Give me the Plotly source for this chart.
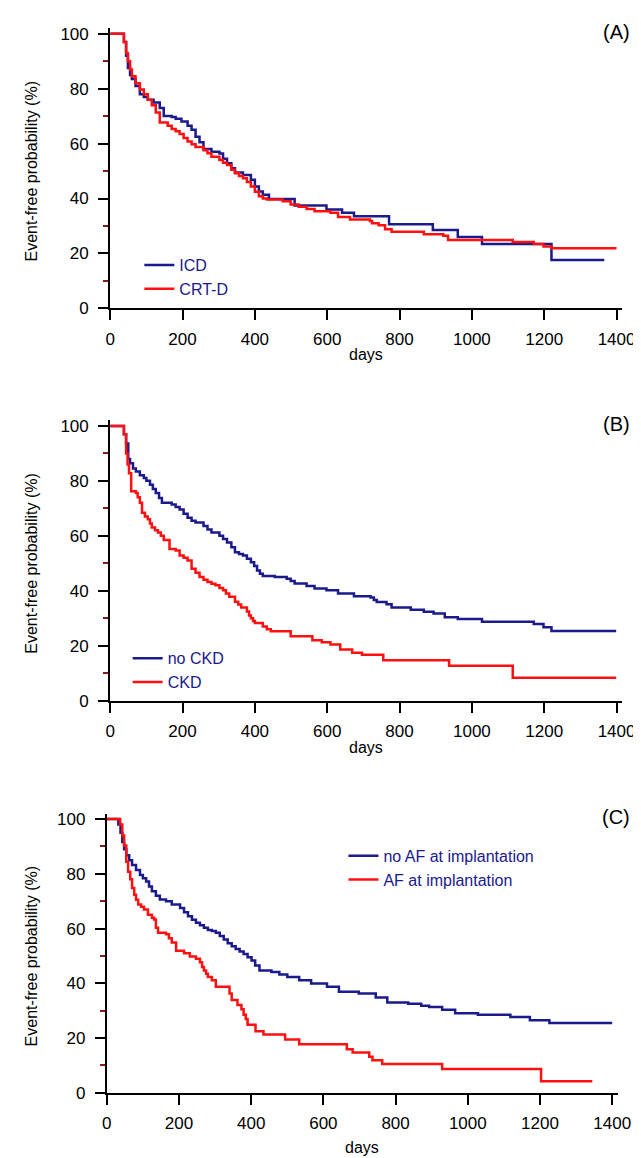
import plotly.graph_objects as go

# ---------------- data ----------------
a_icd_days = [0, 38, 44, 49, 55, 60, 70, 82, 93, 104, 120, 137, 148, 170, 181, 197, 214, 225, 236, 247,
              258, 280, 302, 312, 323, 335, 345, 367, 389, 400, 411, 422, 439, 510, 598, 641, 674, 771,
              892, 961, 1028, 1220, 1366]
a_icd_vals = [100, 97, 92, 87.5, 85, 83.5, 81, 78, 77, 76, 75, 73, 70, 69.7, 69, 68, 66.5, 65, 62.5, 60.5,
              58, 57, 56.4, 54.5, 52.8, 51, 49.5, 48.6, 46.8, 44.4, 42.6, 41.4, 39.8, 37.5, 36, 34.8, 33.5, 30.6,
              28.5, 26, 23.4, 17.6, 17.6]

a_crt_days = [0, 38, 44, 49, 55, 60, 70, 82, 93, 104, 115, 126, 137, 159, 170, 181, 192, 203, 214, 225,
              236, 258, 269, 280, 302, 312, 323, 335, 345, 356, 367, 378, 389, 400, 411, 422, 433, 477, 499,
              521, 543, 565, 609, 630, 663, 718, 724, 742, 760, 778, 867, 921, 934, 1113, 1171, 1198, 1220, 1400]
a_crt_vals = [100, 97, 93, 90, 87, 84.5, 82, 79.7, 78, 76, 74, 71.3, 67.7, 66.5, 65.3, 64.5, 63.5, 62, 60.8, 59.8,
              58.8, 57.6, 56.5, 55.2, 54, 53, 52.2, 50.5, 49.2, 48.2, 47.4, 46, 44.4, 42.5, 40.8, 40, 39.6, 39, 37.8,
              37, 36.2, 35.4, 34.8, 33.3, 32.4, 31.8, 31, 30.3, 28.8, 27.9, 27, 26.4, 24.9, 24.2, 23.4, 22.5, 21.9, 21.9]

b_nockd_days = [0, 38, 44, 50, 55, 63, 71, 82, 93, 100, 110, 118, 126, 135, 143, 170, 181, 192, 203, 214,
                225, 236, 258, 269, 280, 302, 312, 323, 335, 345, 356, 367, 378, 389, 398, 406, 414, 422, 455,
                488, 499, 510, 543, 565, 598, 630, 674, 720, 729, 737, 764, 778, 831, 867, 894, 925, 961, 1028,
                1171, 1198, 1220, 1399]
b_nockd_vals = [100, 97, 93.6, 88, 86.4, 84.5, 83.4, 82, 81, 80, 78.6, 77, 75.6, 73.8, 72, 71.4, 70.5, 69.6, 68, 66.6,
                65.5, 64.8, 63.6, 62.3, 61.2, 60, 58.8, 57.6, 55.8, 54, 53.4, 52.8, 51.6, 50.4, 49, 47.4, 46.2, 45.4, 45,
                44.4, 43.5, 42.6, 41.7, 40.8, 40.2, 39, 38, 37.5, 36.6, 35.9, 35.1, 33.9, 33.1, 32.3, 31.7, 30.3, 29.7, 28.7,
                27.9, 26.7, 25.3, 25.3]

b_ckd_days = [0, 38, 44, 48, 52, 58, 71, 76, 82, 88, 96, 104, 110, 115, 124, 132, 140, 148, 164, 181, 192,
              203, 214, 225, 236, 247, 258, 269, 280, 291, 302, 312, 320, 329, 345, 354, 362, 378, 384, 389,
              395, 400, 422, 433, 444, 499, 559, 585, 609, 636, 669, 696, 755, 937, 1113, 1399]
b_ckd_vals = [100, 97, 90, 86, 82.8, 76.2, 75.6, 74, 72, 68.4, 67, 66, 64.5, 63, 62, 61.2, 60, 58.5, 55.2, 54.6, 52.8,
              52, 51, 48, 46.5, 45, 44, 43.2, 42.5, 42, 41, 40.2, 39, 37.8, 36, 35, 33.9, 32.4, 31, 30,
              29, 28.2, 27, 26, 25.2, 23.4, 22, 21.2, 20.4, 18.6, 17.4, 16.7, 14.7, 12.7, 8.3, 8.3]

c_noaf_days = [0, 32, 38, 43, 48, 54, 62, 70, 81, 92, 100, 109, 117, 125, 136, 147, 164, 180, 203, 214,
               225, 236, 247, 258, 269, 280, 291, 302, 313, 324, 335, 346, 357, 368, 379, 390, 401, 411, 423,
               456, 478, 500, 533, 566, 610, 643, 698, 745, 777, 835, 871, 893, 929, 965, 1028, 1118, 1172,
               1226, 1400]
c_noaf_vals = [100, 98, 95, 91.6, 89, 86.8, 85, 83.2, 81.4, 79.6, 78.4, 77.2, 75.4, 73.6, 72, 70.6, 70, 68.8, 67.5, 66,
               64.5, 63.2, 62.1, 61.2, 60.3, 59.5, 59.1, 58.5, 57.3, 56, 54.6, 53.5, 52.5, 51.6, 50.7, 49.5, 48.3, 46.5, 44.7,
               44.1, 43.2, 42.3, 41.1, 39.9, 38.7, 36.9, 36.3, 34.8, 33, 32.5, 31.8, 31.3, 30.3, 29.1, 28.5, 27.7, 26.5,
               25.5, 25.5]

c_af_days = [0, 37, 43, 48, 54, 59, 65, 70, 76, 81, 87, 95, 103, 114, 125, 131, 136, 142, 164, 172, 180,
             192, 214, 230, 247, 258, 264, 269, 275, 280, 291, 302, 340, 346, 362, 373, 379, 385, 390, 412,
             434, 494, 533, 665, 681, 727, 736, 763, 929, 1203, 1345]
c_af_vals = [100, 98, 94, 90.4, 84.4, 80.8, 78, 74.8, 72.4, 70.5, 68.8, 68, 67, 65.1, 64, 63.3, 60.3, 58.5, 57.9, 56.5, 54.9,
             51.9, 51, 49.8, 49, 47.7, 46, 44.7, 43.5, 42.3, 41.1, 38.7, 36.3, 33.9, 32.1, 30.5, 28.5, 27, 24.9, 22.5,
             21.3, 19.5, 17.7, 15.9, 14.7, 13.2, 11.9, 10.5, 8.7, 4.2, 4.2]

x_ticks = [0, 200, 400, 600, 800, 1000, 1200, 1400]
y_ticks = [0, 20, 40, 60, 80, 100]
panel_labels = ["(A)", "(B)", "(C)"]
legend_names = [["ICD", "CRT-D"], ["no CKD", "CKD"], ["no AF at implantation", "AF at implantation"]]
y_title = "Event-free probability (%)"
x_title = "days"

# ---------------- styling ----------------
W, H = 641, 1158
BLUE = "#1a1a8c"
RED = "#ff0f0f"
FONT = "Liberation Sans, Arial, sans-serif"

# pixel geometry of each panel: (x px of day 0, px per day, y px of 0 %, y px of 100 %)
panels = [
    dict(x0=100.0, sx=521.0 / 1400, y0=300.0, y100=22.0, days_dy=47),
    dict(x0=100.0, sx=521.0 / 1400, y0=697.0, y100=419.0, days_dy=47),
    dict(x0=96.5, sx=520.0 / 1400, y0=1094.0, y100=817.0, days_dy=55),
]
XMAX, YMAX = 1416, 102

series = [
    [(a_icd_days, a_icd_vals, BLUE), (a_crt_days, a_crt_vals, RED)],
    [(b_nockd_days, b_nockd_vals, BLUE), (b_ckd_days, b_ckd_vals, RED)],
    [(c_noaf_days, c_noaf_vals, BLUE), (c_af_days, c_af_vals, RED)],
]
legend_px = [(130, 239), (118, 637), (340, 837)]

fig = go.Figure()
layout = dict(
    width=W, height=H, margin=dict(l=0, r=0, t=0, b=0),
    paper_bgcolor="white", plot_bgcolor="white",
    font=dict(family=FONT, size=17, color="black"),
    annotations=[],
)

for i, p in enumerate(panels):
    n = "" if i == 0 else str(i + 1)
    sy = (p["y0"] - p["y100"]) / 100.0
    xd = [p["x0"] / W, (p["x0"] + XMAX * p["sx"]) / W]
    yd = [1 - p["y0"] / H, 1 - (p["y0"] - YMAX * sy) / H]
    leg = "legend" + n
    for k, (d, v, col) in enumerate(series[i]):
        fig.add_trace(go.Scatter(
            x=d, y=v, mode="lines", line=dict(color=col, width=2.5, shape="hv"),
            name=legend_names[i][k], xaxis="x" + n, yaxis="y" + n, legend=leg,
            hoverinfo="skip",
        ))
    layout["xaxis" + n] = dict(
        domain=xd, range=[0, XMAX], anchor="y" + n, tickvals=x_ticks,
        showline=True, linecolor="black", linewidth=2, ticks="outside", ticklen=10,
        tickwidth=2, tickcolor="black", showgrid=False, zeroline=False,
        tickfont=dict(size=17), ticklabelstandoff=4,
    )
    layout["yaxis" + n] = dict(
        domain=yd, range=[0, YMAX], anchor="x" + n, tickvals=y_ticks,
        showline=True, linecolor="black", linewidth=2, ticks="outside", ticklen=10,
        tickwidth=2, tickcolor="black", showgrid=False, zeroline=False,
        tickfont=dict(size=17), ticklabelstandoff=6,
        minor=dict(ticks="outside", dtick=10, tick0=0, ticklen=5, tickwidth=1.5,
                   tickcolor="#8b1a1a", showgrid=False),
    )
    lx, ly = legend_px[i]
    layout[leg] = dict(
        x=lx / W, y=1 - ly / H, xanchor="left", yanchor="top",
        bgcolor="rgba(0,0,0,0)", borderwidth=0,
        font=dict(family=FONT, size=16, color=BLUE), itemwidth=30,
        tracegroupgap=0,
    )
    # panel label
    layout["annotations"].append(dict(
        text=panel_labels[i], xref="paper", yref="paper", x=637 / W,
        y=1 - (p["y100"] - 2) / H, xanchor="right", yanchor="middle",
        showarrow=False, font=dict(family=FONT, size=20, color="black"),
    ))
    # y title
    layout["annotations"].append(dict(
        text=y_title, xref="paper", yref="paper", x=19 / W,
        y=1 - ((p["y0"] + p["y100"]) / 2) / H, xanchor="center", yanchor="middle",
        textangle=-90, showarrow=False, font=dict(family=FONT, size=16, color="black"),
    ))
    # x title
    layout["annotations"].append(dict(
        text=x_title, xref="paper", yref="paper", x=(p["x0"] + 700 * p["sx"] + 3) / W,
        y=1 - (p["y0"] + p["days_dy"]) / H, xanchor="center", yanchor="middle",
        showarrow=False, font=dict(family=FONT, size=16, color="black"),
    ))

fig.update_layout(**layout)
fig.write_html("out.html")
